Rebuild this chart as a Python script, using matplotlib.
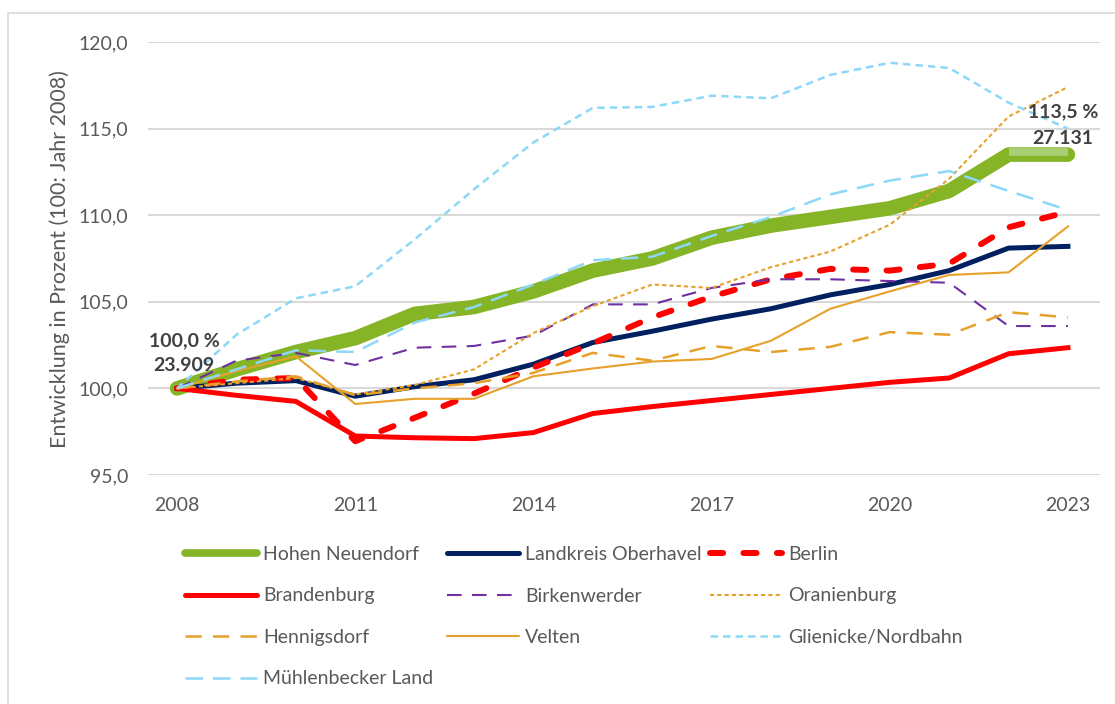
import matplotlib
matplotlib.use("Agg")
import matplotlib.pyplot as plt
import matplotlib.transforms as mtransforms
from matplotlib.lines import Line2D
from matplotlib.patches import Rectangle

# Daten (Index 100 = Jahr 2008)
jahre = [2008, 2009, 2010, 2011, 2012, 2013, 2014, 2015,
         2016, 2017, 2018, 2019, 2020, 2021, 2022, 2023]

hohen_neuendorf = [100.0, 101.1, 102.1, 102.9, 104.3, 104.7, 105.6, 106.8,
                   107.5, 108.7, 109.4, 109.9, 110.4, 111.4, 113.5, 113.5]
landkreis_oberhavel = [100.0, 100.3, 100.45, 99.55, 100.1, 100.5, 101.4, 102.65,
                       103.3, 104.0, 104.6, 105.4, 106.0, 106.8, 108.1, 108.2]
berlin = [100.0, 100.5, 100.6, 96.95, 98.3, 99.7, 101.2, 102.6,
          104.1, 105.3, 106.3, 106.9, 106.8, 107.2, 109.3, 110.2]
brandenburg = [100.0, 99.6, 99.25, 97.25, 97.15, 97.1, 97.45, 98.55,
               98.95, 99.3, 99.65, 100.0, 100.35, 100.6, 102.0, 102.35]
birkenwerder = [100.0, 101.6, 102.05, 101.35, 102.35, 102.45, 103.05, 104.85,
                104.85, 105.8, 106.3, 106.3, 106.2, 106.1, 103.6, 103.6]
oranienburg = [100.0, 100.3, 100.6, 99.65, 100.2, 101.1, 103.2, 104.75,
               106.0, 105.8, 107.0, 107.9, 109.45, 112.1, 115.7, 117.4]
hennigsdorf = [100.0, 100.4, 100.7, 99.6, 100.0, 100.3, 100.9, 102.05,
               101.6, 102.45, 102.1, 102.4, 103.25, 103.1, 104.4, 104.1]
velten = [100.0, 101.0, 101.85, 99.1, 99.4, 99.4, 100.7, 101.15,
          101.55, 101.7, 102.75, 104.6, 105.6, 106.55, 106.7, 109.35]
glienicke = [100.0, 103.1, 105.2, 105.9, 108.6, 111.5, 114.2, 116.2,
             116.25, 116.9, 116.75, 118.1, 118.8, 118.5, 116.5, 115.0]
muehlenbecker = [100.0, 101.1, 102.2, 102.1, 103.8, 104.7, 106.0, 107.4,
                 107.6, 108.8, 109.9, 111.2, 112.0, 112.55, 111.4, 110.3]

einwohner_start = "23.909"
einwohner_ende = "27.131"

plt.rcParams['font.family'] = ['Lato', 'DejaVu Sans']
GRAU = '#595959'
GRUEN = '#86b427'
ORANGE = '#e6a12a'
HELLBLAU = '#8dd8f8'
SCHRIFT = 14

fig = plt.figure(figsize=(11.15, 7.04), dpi=100)
ax = fig.add_axes([148 / 1115, 1 - 475 / 704, 952 / 1115, 433 / 704])

# Serien (Reihenfolge wie in der Legende)
serien = [
    ("Hohen Neuendorf", hohen_neuendorf, dict(color=GRUEN, lw=10.5, solid_capstyle='round', solid_joinstyle='round')),
    ("Landkreis Oberhavel", landkreis_oberhavel, dict(color='#002060', lw=3.6, solid_joinstyle='round')),
    ("Berlin", berlin, dict(color='#ff0000', lw=4.3, dashes=(2.2, 3.4), dash_capstyle='round')),
    ("Brandenburg", brandenburg, dict(color='#ff0000', lw=3.6, solid_joinstyle='round')),
    ("Birkenwerder", birkenwerder, dict(color='#7030a0', lw=1.5, dashes=(7, 5))),
    ("Oranienburg", oranienburg, dict(color=ORANGE, lw=1.5, dashes=(2, 1.5))),
    ("Hennigsdorf", hennigsdorf, dict(color=ORANGE, lw=1.8, dashes=(6.5, 4.5))),
    ("Velten", velten, dict(color=ORANGE, lw=1.5)),
    ("Glienicke/Nordbahn", glienicke, dict(color=HELLBLAU, lw=1.8, dashes=(3, 2))),
    ("Mühlenbecker Land", muehlenbecker, dict(color=HELLBLAU, lw=1.8, dashes=(7, 4))),
]

for name, werte, stil in serien:
    ax.plot(jahre, werte, label=name, **stil)

# letztes Segment Hohen Neuendorf hervorgehoben
versatz = mtransforms.offset_copy(ax.transData, fig=fig, x=0, y=2.5, units='dots')
ax.plot(jahre[-2:], hohen_neuendorf[-2:], color='#a9cf74', lw=5.5,
        solid_capstyle='butt', transform=versatz)

# Datenbeschriftungen
beschr = dict(ha='center', va='center', fontsize=SCHRIFT, fontweight='bold', color='#404040')
ax.text(jahre[0] + 0.12, hohen_neuendorf[0] + 2.77, "100,0 %", **beschr)
ax.text(jahre[0] + 0.12, hohen_neuendorf[0] + 1.3, einwohner_start, **beschr)
ax.text(jahre[-1] - 0.08, hohen_neuendorf[-1] + 2.47, "113,5 %", **beschr)
ax.text(jahre[-1] - 0.08, hohen_neuendorf[-1] + 0.9, einwohner_ende, **beschr)

ax.set_xlim(2007.51, 2023.54)
ax.set_ylim(95, 120)
ax.set_xticks([2008, 2011, 2014, 2017, 2020, 2023])
ax.set_yticks([95, 100, 105, 110, 115, 120])
ax.set_yticklabels([f"{v:.1f}".replace('.', ',') for v in [95, 100, 105, 110, 115, 120]])
ax.tick_params(axis='both', length=0, labelsize=SCHRIFT, labelcolor=GRAU)
ax.tick_params(axis='y', pad=14)
ax.tick_params(axis='x', pad=16)
for s in ax.spines.values():
    s.set_visible(False)
ax.grid(axis='y', color='#d9d9d9', lw=1.5)
ax.set_axisbelow(True)

fig.text(60 / 1115, 1 - 259 / 704, "Entwicklung in Prozent (100: Jahr 2008)", rotation=90,
         ha='center', va='center', fontsize=15.5, color=GRAU)

# Legende: drei Spalten wie im Original
spalten = [
    ["Hohen Neuendorf", "Brandenburg", "Hennigsdorf", "Mühlenbecker Land"],
    ["Landkreis Oberhavel", "Birkenwerder", "Velten"],
    ["Berlin", "Oranienburg", "Glienicke/Nordbahn"],
]
spalten_x = [185, 447, 710]
stile = {s[0]: s[2] for s in serien}
for namen, x0 in zip(spalten, spalten_x):
    hs = []
    for n in namen:
        stil = stile[n]
        kw = dict(color=stil['color'], lw=min(stil['lw'], 4.3))
        if 'dashes' in stil:
            kw['dashes'] = stil['dashes']
            kw['dash_capstyle'] = stil.get('dash_capstyle', 'butt')
        else:
            kw['solid_capstyle'] = 'round'
        if n == "Hohen Neuendorf":
            kw['lw'] = 5.5
        hs.append(Line2D([0], [0], **kw))
    leg = fig.legend(hs, namen, loc='upper left', bbox_to_anchor=(x0 / 1115, 1 - 546 / 704),
                     frameon=False, fontsize=SCHRIFT, handlelength=3.7, handletextpad=0.3,
                     labelspacing=1.26, borderpad=0, borderaxespad=0)
    for t in leg.get_texts():
        t.set_color(GRAU)

fig.add_artist(Rectangle((8 / 1115, -0.01), 1.2, 1 - 13 / 704 + 0.01, transform=fig.transFigure,
                         fill=False, edgecolor='#d9d9d9', lw=1.2))

fig.savefig("out.png", dpi=100)
